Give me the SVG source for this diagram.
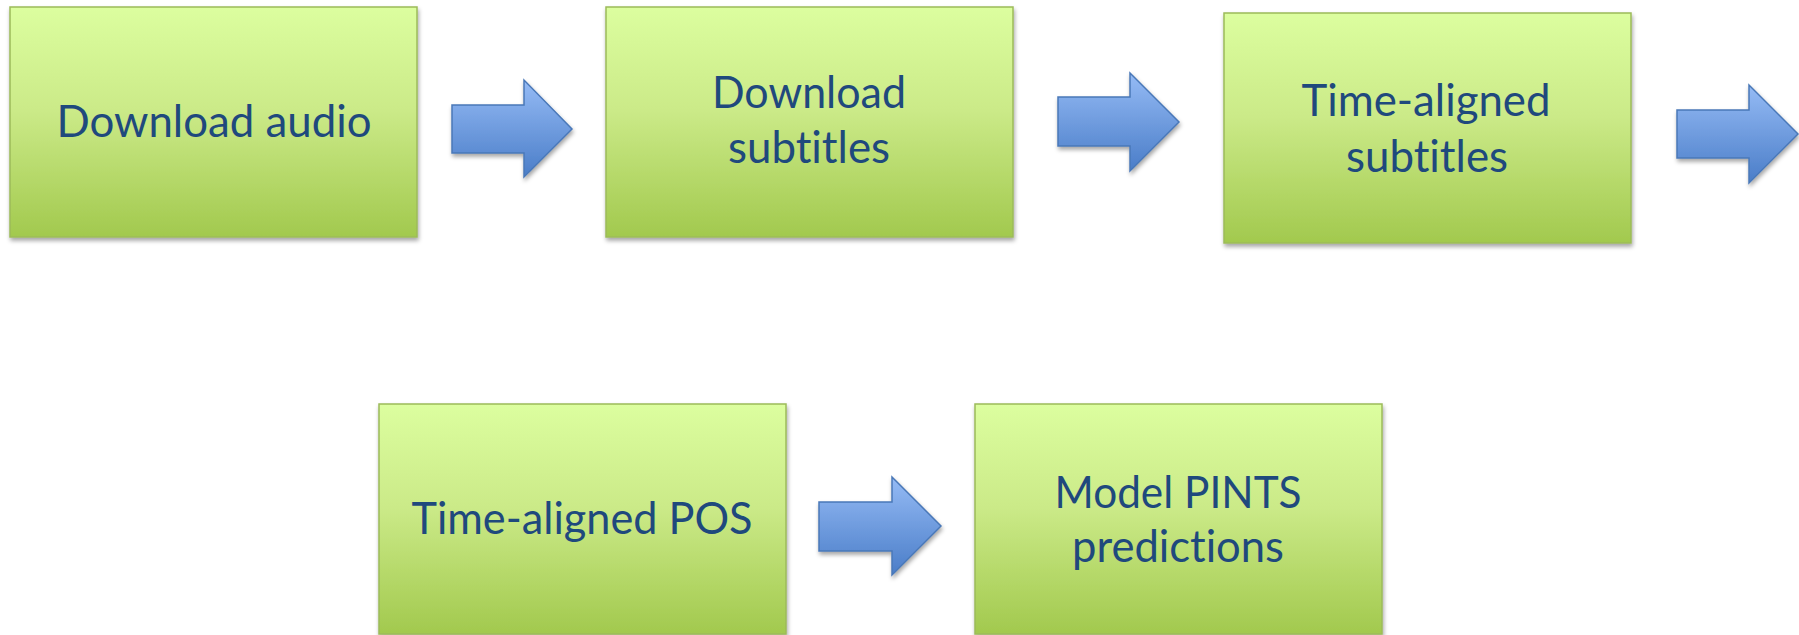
<svg xmlns="http://www.w3.org/2000/svg" width="1799" height="635" viewBox="0 0 1799 635">
  <defs>
    <linearGradient id="gBox" x1="0" y1="0" x2="0" y2="1">
      <stop offset="0" stop-color="#DCFE9F"/>
      <stop offset="0.45" stop-color="#CBEA88"/>
      <stop offset="1" stop-color="#A2C94E"/>
    </linearGradient>
    <linearGradient id="gArrow" x1="0" y1="0" x2="0" y2="1">
      <stop offset="0" stop-color="#95BBF5"/>
      <stop offset="1" stop-color="#4A7DC8"/>
    </linearGradient>
    <filter id="shadow" x="-5%" y="-5%" width="112%" height="115%">
      <feDropShadow dx="1" dy="3" stdDeviation="2" flood-color="#000" flood-opacity="0.35"/>
    </filter>
  </defs>
  <style>
    .box { fill: url(#gBox); stroke: #9CBB5A; stroke-width: 1.5; filter: url(#shadow); }
    .arrow { fill: url(#gArrow); stroke: #4A78B8; stroke-width: 1.5; stroke-linejoin: miter; filter: url(#shadow); }
    .label { font-family: Lato, "Open Sans", "Liberation Sans", sans-serif; font-size: 45px; fill: #1F497D; text-anchor: middle; font-variant-ligatures: none; font-feature-settings: "liga" 0; }
  </style>
  <rect width="1799" height="635" fill="#FFFFFF"/>

  <g id="node-download-audio">
    <rect class="box" x="10" y="7" width="407" height="230"/>
    <text class="label" x="214" y="137" textLength="315" lengthAdjust="spacingAndGlyphs">Download audio</text>
  </g>
  <g id="node-download-subtitles">
    <rect class="box" x="606" y="7" width="407" height="230"/>
    <text class="label" x="809" y="108" textLength="194" lengthAdjust="spacingAndGlyphs">Download</text>
    <text class="label" x="809" y="163" textLength="162" lengthAdjust="spacingAndGlyphs">subtitles</text>
  </g>
  <g id="node-time-aligned-subtitles">
    <rect class="box" x="1224" y="13" width="407" height="230"/>
    <text class="label" x="1426" y="116" textLength="249" lengthAdjust="spacingAndGlyphs">Time-aligned</text>
    <text class="label" x="1427" y="172" textLength="162" lengthAdjust="spacingAndGlyphs">subtitles</text>
  </g>
  <g id="node-time-aligned-pos">
    <rect class="box" x="379" y="404" width="407" height="230"/>
    <text class="label" x="582" y="534" textLength="341" lengthAdjust="spacingAndGlyphs">Time-aligned POS</text>
  </g>
  <g id="node-model-pints">
    <rect class="box" x="975" y="404" width="407" height="230"/>
    <text class="label" x="1178" y="508" textLength="247" lengthAdjust="spacingAndGlyphs">Model PINTS</text>
    <text class="label" x="1178" y="562" textLength="212" lengthAdjust="spacingAndGlyphs">predictions</text>
  </g>

  <g id="connectors">
    <polygon class="arrow" points="452,105 524,105 524,80 572,129 524,177 524,153 452,153"/>
    <polygon class="arrow" points="1058,97 1130,97 1130,73 1179,122 1130,171 1130,146 1058,146"/>
    <polygon class="arrow" points="1677,110 1749,110 1749,85 1798,134 1749,183 1749,158 1677,158"/>
    <polygon class="arrow" points="819,502 892,502 892,477 941,526 892,575 892,551 819,551"/>
  </g>
</svg>
